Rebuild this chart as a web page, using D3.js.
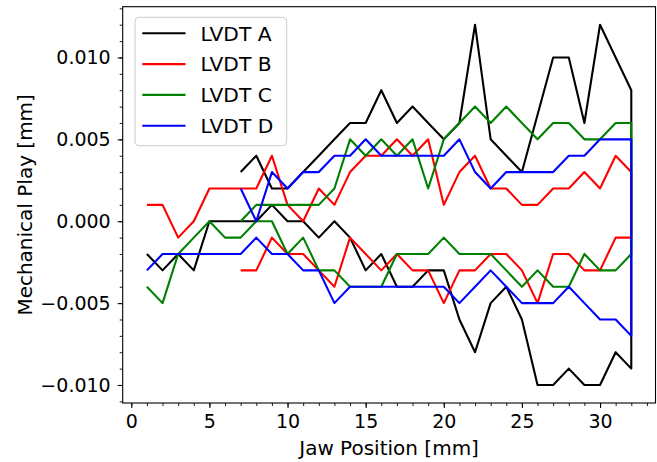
<!DOCTYPE html>
<html>
<head>
<meta charset="utf-8">
<script src="https://cdn.jsdelivr.net/npm/d3@7"></script>
<style>
  body { margin: 0; background: #fff; }
  svg { display: block; font-family: "DejaVu Sans", sans-serif; }
</style>
</head>
<body>
<div class="display"></div>
<script>
const width = 657;
const height = 462;
const margin = {left: 122.7, right: 1.5, top: 6.7, bottom: 59};

// jaw position [mm]
const jawPositions = [1, 2, 3, 4, 5, 6, 7, 8, 9, 10, 11, 12, 13, 14, 15, 16,
    17, 18, 19, 20, 21, 22, 23, 24, 25, 26, 27, 28, 29, 30, 31, 32];

// mechanical play [mm], upper and lower traces per sensor (null = not measured)
const upperA = [null, null, null, null, null, null, 0.003, 0.004, 0.002, 0.002, 0.003, 0.004, 0.005, 0.006, 0.006, 0.008,
    0.006, 0.007, 0.006, 0.005, 0.006, 0.012, 0.005, 0.004, 0.003, 0.0065, 0.010, 0.010, 0.006, 0.012, 0.010, 0.008];
const lowerA = [-0.002, -0.003, -0.002, -0.003, 0.000, 0.000, 0.000, 0.000, 0.001, 0.000, 0.000, -0.001, 0.000, -0.001, -0.003, -0.002,
    -0.004, -0.004, -0.003, -0.003, -0.006, -0.008, -0.005, -0.004, -0.006, -0.010, -0.010, -0.009, -0.010, -0.010, -0.008, -0.009];

const upperB = [0.001, 0.001, -0.001, 0.000, 0.002, 0.002, 0.002, 0.002, 0.004, 0.001, 0.000, 0.002, 0.001, 0.003, 0.004, 0.004,
    0.005, 0.004, 0.005, 0.001, 0.003, 0.004, 0.002, 0.002, 0.001, 0.001, 0.002, 0.002, 0.003, 0.002, 0.004, 0.003];
const lowerB = [null, null, null, null, null, null, -0.003, -0.003, -0.001, -0.002, -0.002, -0.003, -0.004, -0.001, -0.002, -0.003,
    -0.002, -0.003, -0.003, -0.005, -0.003, -0.003, -0.002, -0.002, -0.003, -0.005, -0.002, -0.002, -0.003, -0.003, -0.001, -0.001];

const upperC = [null, null, null, null, null, null, 0.000, 0.001, 0.001, 0.001, 0.001, 0.001, 0.002, 0.005, 0.004, 0.005,
    0.004, 0.005, 0.002, 0.005, 0.006, 0.007, 0.006, 0.007, 0.006, 0.005, 0.006, 0.006, 0.005, 0.005, 0.006, 0.006];
const lowerC = [-0.004, -0.005, -0.002, -0.001, 0.000, -0.001, -0.001, 0.000, 0.000, -0.002, -0.001, -0.003, -0.003, -0.004, -0.004, -0.004,
    -0.002, -0.002, -0.002, -0.001, -0.002, -0.002, -0.002, -0.003, -0.004, -0.003, -0.004, -0.004, -0.002, -0.003, -0.003, -0.002];

const upperD = [null, null, null, null, null, null, 0.002, 0.000, 0.003, 0.002, 0.003, 0.003, 0.004, 0.004, 0.005, 0.004,
    0.004, 0.004, 0.004, 0.004, 0.005, 0.003, 0.002, 0.003, 0.003, 0.003, 0.003, 0.004, 0.004, 0.005, 0.005, 0.005];
const lowerD = [-0.003, -0.002, -0.002, -0.002, -0.002, -0.002, -0.002, -0.001, -0.002, -0.002, -0.003, -0.003, -0.005, -0.004, -0.004, -0.004,
    -0.004, -0.004, -0.004, -0.004, -0.005, -0.004, -0.003, -0.004, -0.005, -0.005, -0.005, -0.004, -0.005, -0.006, -0.006, -0.007];

const sensorNames = ['LVDT A', 'LVDT B', 'LVDT C', 'LVDT D'];
const sensorColors = ['#000000', '#ff0000', '#008000', '#0000ff'];
const upperSeries = [upperA, upperB, upperC, upperD];
const lowerSeries = [lowerA, lowerB, lowerC, lowerD];

const xTickValues = [0, 5, 10, 15, 20, 25, 30];
const yTickValues = [-0.010, -0.005, 0.000, 0.005, 0.010];

const svg = d3.select('.display')
    .append('svg')
    .attr('width', width)
    .attr('height', height);

// matplotlib style 5% margins
const xExt = d3.extent(jawPositions);
const allValues = upperSeries.concat(lowerSeries).flat().filter(v => v !== null);
const yExt = d3.extent(allValues);
const xPad = (xExt[1] - xExt[0]) * 0.05;
const yPad = (yExt[1] - yExt[0]) * 0.05;

const xScale = d3.scaleLinear()
    .domain([xExt[0] - xPad, xExt[1] + xPad])
    .range([margin.left, width - margin.right]);
const yScale = d3.scaleLinear()
    .domain([yExt[0] - yPad, yExt[1] + yPad])
    .range([height - margin.bottom, margin.top]);

const x0 = margin.left, x1 = width - margin.right;
const y0 = height - margin.bottom, y1 = margin.top;

// minor ticks
svg.append('g')
    .attr('transform', `translate(0, ${y0})`)
    .call(d3.axisBottom(xScale).tickValues(d3.range(0, 34, 1)).tickSize(3).tickFormat(''))
    .call(g => g.select('.domain').remove())
    .call(g => g.selectAll('line').attr('stroke-width', 0.9));
svg.append('g')
    .attr('transform', `translate(${x0}, 0)`)
    .call(d3.axisLeft(yScale).tickValues(d3.range(-11, 14, 1).map(d => d / 1000)).tickSize(3).tickFormat(''))
    .call(g => g.select('.domain').remove())
    .call(g => g.selectAll('line').attr('stroke-width', 0.9));

// major ticks
svg.append('g')
    .attr('transform', `translate(0, ${y0})`)
    .call(d3.axisBottom(xScale).tickValues(xTickValues).tickSize(5).tickPadding(7).tickFormat(d3.format('d')))
    .call(g => g.select('.domain').remove())
    .call(g => g.selectAll('line').attr('stroke-width', 1.1))
    .call(g => g.selectAll('text').attr('font-size', 19).attr('fill', '#000').attr('font-family', 'DejaVu Sans'));
svg.append('g')
    .attr('transform', `translate(${x0}, 0)`)
    .call(d3.axisLeft(yScale).tickValues(yTickValues).tickSize(5).tickPadding(7).tickFormat(d3.format('.3f')))
    .call(g => g.select('.domain').remove())
    .call(g => g.selectAll('line').attr('stroke-width', 1.1))
    .call(g => g.selectAll('text').attr('font-size', 19).attr('fill', '#000').attr('font-family', 'DejaVu Sans'));

// traces: upper left to right, then lower right to left
const line = d3.line()
    .x(d => xScale(d[0]))
    .y(d => yScale(d[1]));

svg.append('clipPath').attr('id', 'plot-clip')
    .append('rect')
    .attr('x', x0).attr('y', y1)
    .attr('width', x1 - x0).attr('height', y0 - y1);

const plot = svg.append('g').attr('clip-path', 'url(#plot-clip)');

sensorNames.forEach((name, i) => {
    const up = jawPositions.map((p, j) => [p, upperSeries[i][j]]).filter(d => d[1] !== null);
    const low = jawPositions.map((p, j) => [p, lowerSeries[i][j]]).filter(d => d[1] !== null).reverse();
    plot.append('path')
        .datum(up.concat(low))
        .attr('fill', 'none')
        .attr('stroke', sensorColors[i])
        .attr('stroke-width', 2.1)
        .attr('stroke-linejoin', 'round')
        .attr('d', line);
});

// frame
svg.append('rect')
    .attr('x', x0).attr('y', y1)
    .attr('width', x1 - x0).attr('height', y0 - y1)
    .attr('fill', 'none')
    .attr('stroke', '#000')
    .attr('stroke-width', 1.1);

// axis labels
svg.append('text')
    .attr('x', (x0 + x1) / 2)
    .attr('y', 455)
    .attr('text-anchor', 'middle')
    .attr('font-size', 20)
    .text('Jaw Position [mm]');

svg.append('text')
    .attr('transform', `translate(31.5, ${(y0 + y1) / 2}) rotate(-90)`)
    .attr('text-anchor', 'middle')
    .attr('font-size', 20)
    .text('Mechanical Play [mm]');

// legend
const legend = svg.append('g').attr('id', 'legend');
legend.append('rect')
    .attr('x', 135).attr('y', 17.3)
    .attr('width', 151.7).attr('height', 128.4)
    .attr('rx', 4)
    .attr('fill', '#fff')
    .attr('fill-opacity', 0.8)
    .attr('stroke', '#cccccc')
    .attr('stroke-width', 1);

sensorNames.forEach((name, i) => {
    const cy = 33.3 + i * 30.8;
    legend.append('line')
        .attr('x1', 142.3).attr('x2', 185.5)
        .attr('y1', cy).attr('y2', cy)
        .attr('stroke', sensorColors[i])
        .attr('stroke-width', 2.1);
    legend.append('text')
        .attr('x', 200.5)
        .attr('y', cy + 7.3)
        .attr('font-size', 20.2)
        .attr('fill', '#000')
        .text(name);
});
</script>
</body>
</html>
